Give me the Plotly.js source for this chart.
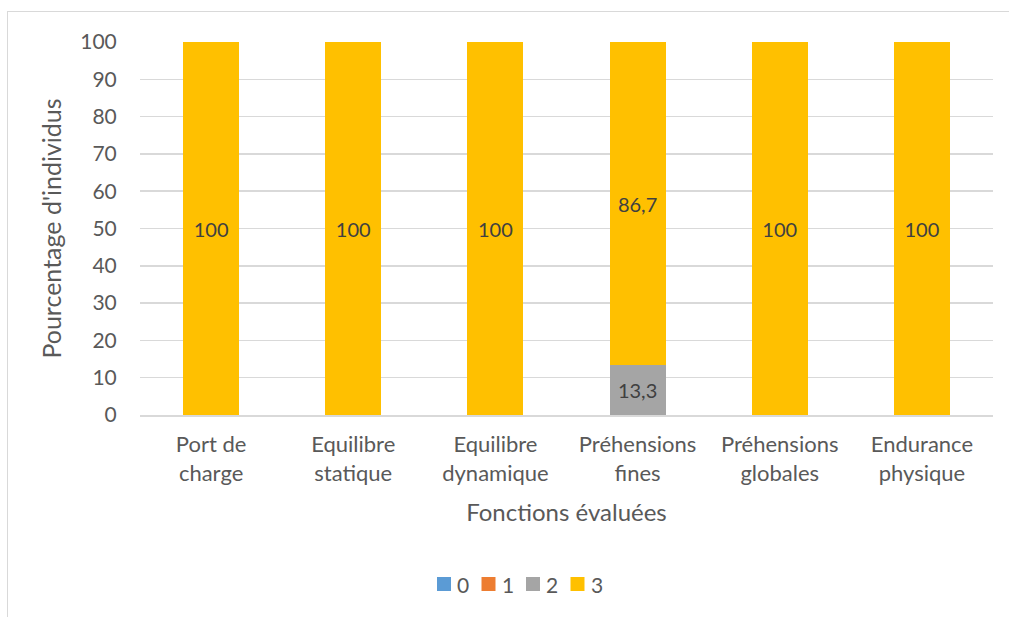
<!DOCTYPE html>
<html><head><meta charset="utf-8">
<script src="https://cdn.plot.ly/plotly-3.0.1.min.js"></script>
<style>
html,body{margin:0;padding:0;background:#fff;overflow:hidden}
#frame{position:absolute;left:7px;top:11px;width:1100px;height:700px;border:1.5px solid #d9d9d9;box-sizing:border-box}
#chart{position:absolute;left:0;top:0;width:1009px;height:617px}
</style></head>
<body>
<div id="frame"></div>
<div id="chart"></div>
<script>
const categories = ["Port de<br>charge","Equilibre<br>statique","Equilibre<br>dynamique","Préhensions<br>fines","Préhensions<br>globales","Endurance<br>physique"];
const seriesNames = ["0","1","2","3"];
const s0 = [0,0,0,0,0,0];
const s1 = [0,0,0,0,0,0];
const s2 = [0,0,0,13.3,0,0];
const s3 = [100,100,100,86.7,100,100];
const colors = ["#5B9BD5","#ED7D31","#A5A5A5","#FFC000"];
const allSeries = [s0,s1,s2,s3];

const fontFam = "Lato, 'Noto Sans', sans-serif";
const traces = allSeries.map((vals,i)=>({
  type:'bar', name:seriesNames[i], x:categories, y:vals,
  marker:{color:colors[i]},
  text: vals.map(v=> v>0 ? String(v).replace('.',',') : ''),
  textposition:'inside', insidetextanchor:'middle', textangle:0,
  textfont:{family:fontFam,size:20,color:'#404040'},
  constraintext:'none',
  hoverinfo:'none', showlegend:false
}));

// Custom legend (swatch + label), positioned in paper coords
const legShapes = [], legAnn = [];
const plotL = 140, plotW = 853, plotB = 415, plotH = 373;
const legY = 584, sw = 14, legX0 = 437, legStep = 44.5;
seriesNames.forEach((n,i)=>{
  const x0 = legX0 + i*legStep;
  legShapes.push({type:'rect', xref:'paper', yref:'paper',
    x0:(x0-plotL)/plotW, x1:(x0+sw-plotL)/plotW,
    y0:(plotB-(legY+sw/2))/plotH, y1:(plotB-(legY-sw/2))/plotH,
    fillcolor:colors[i], line:{width:0}});
  legAnn.push({xref:'paper', yref:'paper', x:(x0+sw+4-plotL)/plotW, y:(plotB-legY)/plotH,
    xanchor:'left', yanchor:'middle', text:n, showarrow:false,
    font:{family:fontFam,size:21,color:'#595959'}});
});

const layout = {
  width:1009, height:617,
  barmode:'stack', bargap:0.605,
  paper_bgcolor:'rgba(0,0,0,0)', plot_bgcolor:'rgba(0,0,0,0)',
  margin:{l:140,r:16,t:42,b:202},
  font:{family:fontFam,color:'#595959'},
  separators:', ',
  xaxis:{
    tickfont:{size:22,color:'#595959'}, showgrid:false,
    showline:true, linecolor:'#d9d9d9', linewidth:1.5,
    ticks:'outside', ticklen:9, tickcolor:'rgba(0,0,0,0)',
    title:{text:'Fonctions évaluées', font:{size:24,color:'#595959'}, standoff:19}
  },
  yaxis:{
    range:[0,100], dtick:10, tickfont:{size:21,color:'#595959'},
    gridcolor:'#d9d9d9', gridwidth:1.5, zeroline:false,
    ticks:'outside', ticklen:18, tickcolor:'rgba(0,0,0,0)',
    title:{text:"Pourcentage d'individus", font:{size:25,color:'#595959'}, standoff:11}
  },
  shapes:legShapes, annotations:legAnn,
  showlegend:false
};
Plotly.newPlot('chart', traces, layout, {displayModeBar:false, staticPlot:true});
</script>
</body></html>
